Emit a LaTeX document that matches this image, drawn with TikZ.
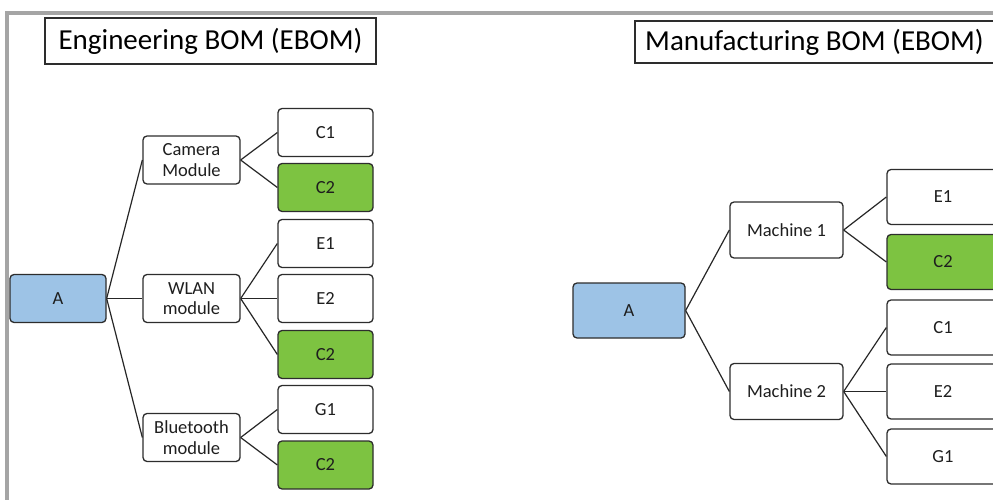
\documentclass[tikz,border=0pt]{standalone}
\usepackage{fontspec}
\setmainfont{Carlito}
\definecolor{aBlue}{RGB}{157,195,230}
\definecolor{cGreen}{RGB}{125,195,65}
\definecolor{frameGray}{RGB}{165,165,165}
\definecolor{edgeDark}{RGB}{45,45,45}
\definecolor{txtDark}{RGB}{30,30,30}
\tikzset{
  bomnode/.style={draw=edgeDark, line width=1.3pt, rounded corners=4pt, fill=white,
    text=txtDark, align=center, inner sep=0pt, font=\fontsize{18.5}{20.7}\selectfont},
  smallnode/.style={bomnode, minimum width=96pt, minimum height=48pt},
  bignode/.style={bomnode, minimum width=112pt, minimum height=55pt},
  bluenode/.style={fill=aBlue},
  greennode/.style={fill=cGreen},
  titlebox/.style={draw=edgeDark, line width=1.2pt, fill=white, inner sep=0pt,
    text=black, font=\fontsize{29}{32}\selectfont},
  link/.style={draw=black!85, line width=1.2pt},
}
\begin{document}
\begin{tikzpicture}[x=1pt,y=-1pt]
\useasboundingbox (0,0) rectangle (993,500);
\clip (0,0) rectangle (993,500);
\fill[white] (0,0) rectangle (993,500);
% frame
\draw[frameGray, line width=4pt] (7,502) -- (7,13) -- (995,13);
% titles
\node[titlebox, minimum width=331pt, minimum height=46pt] (t1) at (210.5,41) {Engineering BOM (EBOM)};
\node[titlebox, minimum width=359pt, minimum height=42pt] (t2) at (814.5,42) {Manufacturing BOM (EBOM)};
% left tree
\node[smallnode, bluenode] (A1) at (58,298.5) {A};
\node[smallnode, minimum width=97pt] (cam) at (191.5,160) {Camera\\Module};
\node[smallnode, minimum width=97pt] (wlan) at (191.5,298.5) {WLAN\\module};
\node[smallnode, minimum width=97pt] (bt) at (191.5,437.5) {Bluetooth\\module};
\node[smallnode, minimum width=95pt] (lc1) at (325.5,132.5) {C1};
\node[smallnode, minimum width=95pt, greennode] (lc2a) at (325.5,187.5) {C2};
\node[smallnode, minimum width=95pt] (le1) at (325.5,243.5) {E1};
\node[smallnode, minimum width=95pt] (le2) at (325.5,298.5) {E2};
\node[smallnode, minimum width=95pt, greennode] (lc2b) at (325.5,354.5) {C2};
\node[smallnode, minimum width=95pt] (lg1) at (325.5,409.5) {G1};
\node[smallnode, minimum width=95pt, greennode] (lc2c) at (325.5,465) {C2};
\draw[link] (A1.east) -- (cam.west);
\draw[link] (A1.east) -- (wlan.west);
\draw[link] (A1.east) -- (bt.west);
\draw[link] (cam.east) -- (lc1.west);
\draw[link] (cam.east) -- (lc2a.west);
\draw[link] (wlan.east) -- (le1.west);
\draw[link] (wlan.east) -- (le2.west);
\draw[link] (wlan.east) -- (lc2b.west);
\draw[link] (bt.east) -- (lg1.west);
\draw[link] (bt.east) -- (lc2c.west);
% right tree
\node[bignode, bluenode] (A2) at (629,310.5) {A};
\node[bignode, minimum width=113pt, minimum height=56pt] (m1) at (786.5,230) {Machine 1};
\node[bignode, minimum width=113pt, minimum height=56pt] (m2) at (786.5,391.5) {Machine 2};
\node[bignode] (re1) at (943,197) {E1};
\node[bignode, greennode] (rc2) at (943,262) {C2};
\node[bignode] (rc1) at (943,327.5) {C1};
\node[bignode] (re2) at (943,391.5) {E2};
\node[bignode] (rg1) at (943,456.5) {G1};
\draw[link] (A2.east) -- (m1.west);
\draw[link] (A2.east) -- (m2.west);
\draw[link] (m1.east) -- (re1.west);
\draw[link] (m1.east) -- (rc2.west);
\draw[link] (m2.east) -- (rc1.west);
\draw[link] (m2.east) -- (re2.west);
\draw[link] (m2.east) -- (rg1.west);
\end{tikzpicture}
\end{document}
